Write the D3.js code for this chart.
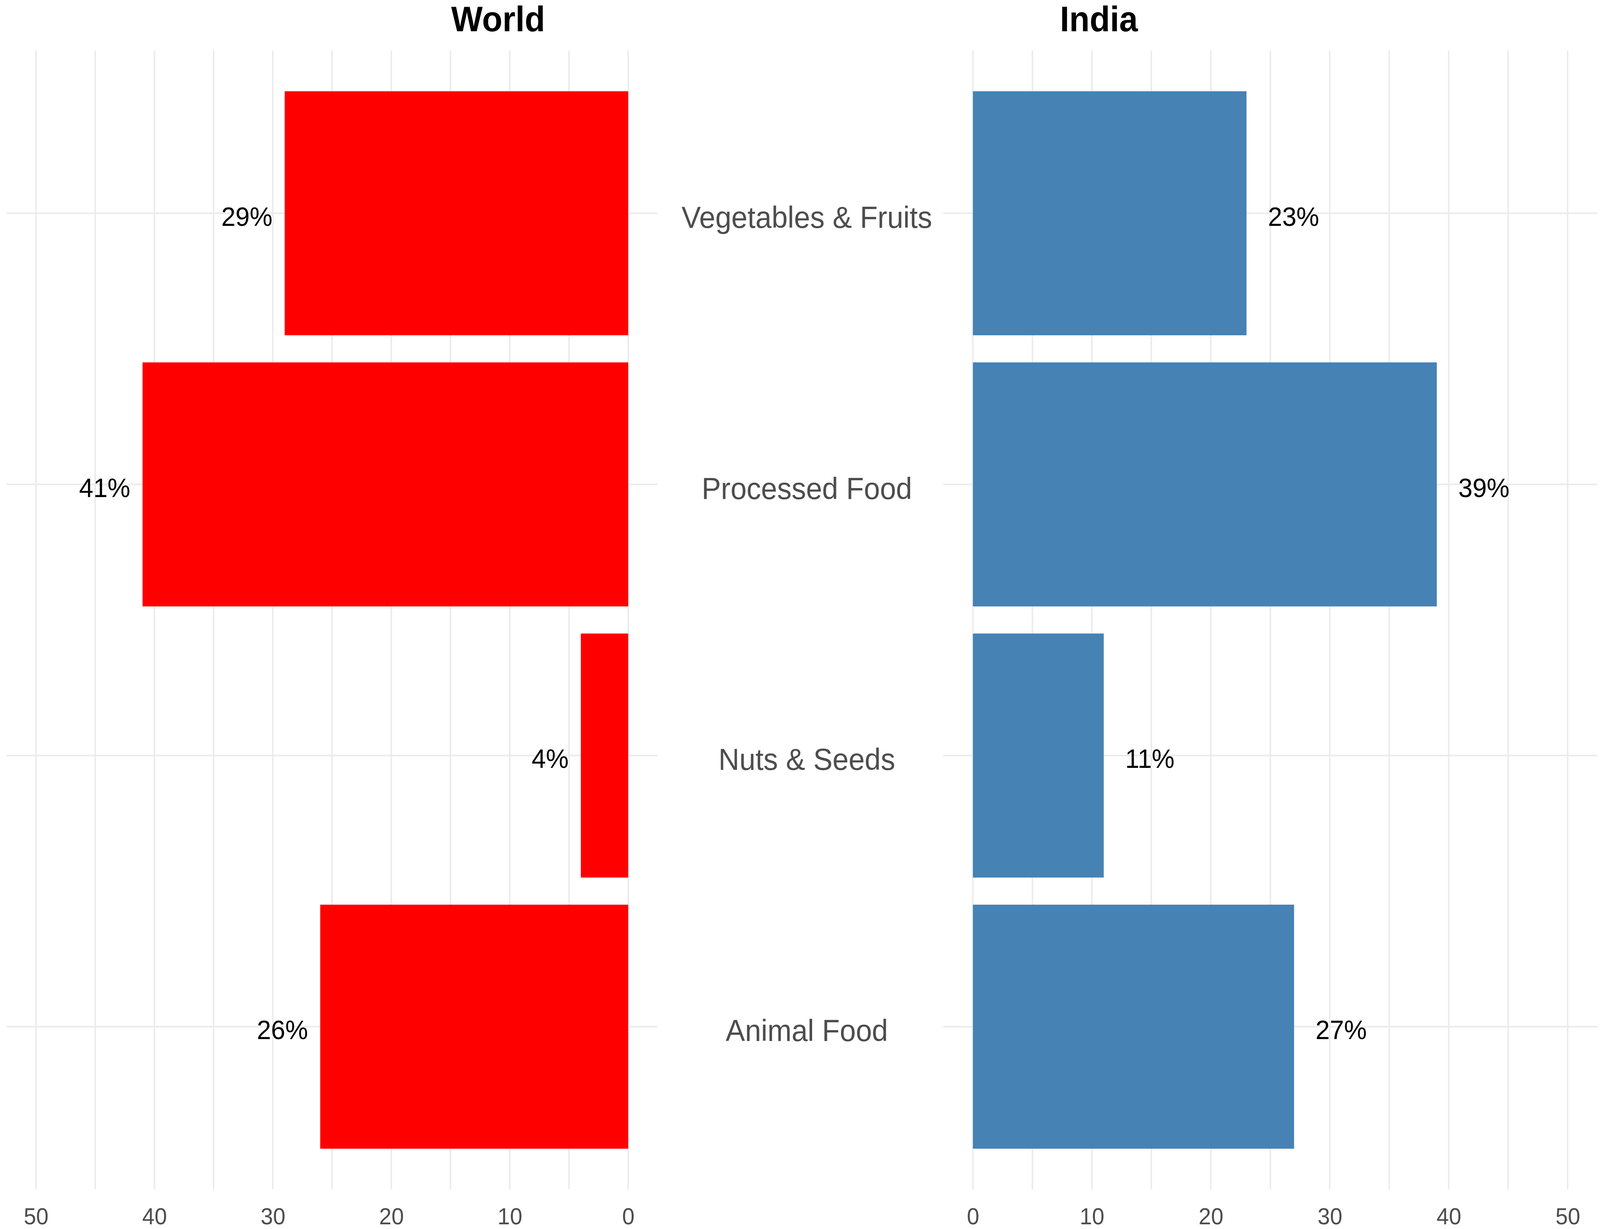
<!DOCTYPE html>
<html>
<head>
<meta charset="utf-8">
<script src="https://cdn.jsdelivr.net/npm/d3@7"></script>
<style>
  html, body { margin: 0; padding: 0; background: #ffffff; overflow: hidden; width: 100%; height: 100%; }
  svg { display: block; width: 100vw; height: 100vh; }
  text { font-family: "Liberation Sans", Arial, sans-serif; }
</style>
</head>
<body>
<script>
// ---- data ----
const categories = ["Vegetables & Fruits", "Processed Food", "Nuts & Seeds", "Animal Food"];
const worldValues = [29, 41, 4, 26];
const indiaValues = [23, 39, 11, 27];
const tickValues = [0, 10, 20, 30, 40, 50];
const gridValues = [0, 5, 10, 15, 20, 25, 30, 35, 40, 45, 50];
const panelTitles = ["World", "India"];

// ---- layout ----
const W = 4317, H = 3145;
const plotTop = 129.4, plotBottom = 3043.6;

const svg = d3.select("body").append("svg")
  .attr("viewBox", `0 0 ${W} ${H}`)
  .attr("preserveAspectRatio", "none");

svg.append("rect").attr("width", W).attr("height", H).attr("fill", "#ffffff");

const y = d3.scaleBand()
  .domain(categories)
  .range([plotTop, plotBottom])
  .paddingInner(0.1)
  .paddingOuter(0.15);

const xL = d3.scaleLinear().domain([-2.5, 52.5]).range([1774.9, 17]);
const xR = d3.scaleLinear().domain([-2.5, 52.5]).range([2544.75, 4310]);

const gridColor = "#ebebeb";
const gridW = 4;

function panel(x, values, color, side) {
  const g = svg.append("g");
  const [r0, r1] = x.range();
  const xmin = Math.min(r0, r1), xmax = Math.max(r0, r1);

  // vertical grid
  g.selectAll("line.v").data(gridValues).join("line")
    .attr("class", "v")
    .attr("x1", d => x(d)).attr("x2", d => x(d))
    .attr("y1", plotTop).attr("y2", plotBottom)
    .attr("stroke", gridColor).attr("stroke-width", gridW);

  // horizontal grid
  g.selectAll("line.h").data(categories).join("line")
    .attr("class", "h")
    .attr("x1", xmin).attr("x2", xmax)
    .attr("y1", d => y(d) + y.bandwidth() / 2)
    .attr("y2", d => y(d) + y.bandwidth() / 2)
    .attr("stroke", gridColor).attr("stroke-width", gridW);

  // bars
  g.selectAll("rect.bar").data(values).join("rect")
    .attr("class", "bar")
    .attr("x", d => Math.min(x(0), x(d)))
    .attr("width", d => Math.abs(x(d) - x(0)))
    .attr("y", (d, i) => y(categories[i]))
    .attr("height", y.bandwidth())
    .attr("fill", color);

  // value labels
  g.selectAll("text.val").data(values).join("text")
    .attr("class", "val")
    .attr("x", d => side === "left" ? x(d) - 33 : x(d) + 58)
    .attr("y", (d, i) => y(categories[i]) + y.bandwidth() / 2 + 32)
    .attr("text-anchor", side === "left" ? "end" : "start")
    .attr("font-size", 69)
    .attr("fill", "#000000")
    .text(d => d + "%");

  // axis
  const axis = d3.axisBottom(x).tickValues(tickValues).tickSize(0).tickPadding(0).tickFormat(d3.format("d"));
  const ag = g.append("g").attr("transform", `translate(0, ${plotBottom})`).call(axis);
  ag.select(".domain").remove();
  ag.selectAll("text")
    .attr("y", 89)
    .attr("dy", null)
    .attr("font-size", 60)
    .attr("font-family", "Liberation Sans, Arial, sans-serif")
    .attr("fill", "#4d4d4d");
}

panel(xL, worldValues, "#ff0000", "left");
panel(xR, indiaValues, "#4682b4", "right");

// category labels
svg.append("g").selectAll("text").data(categories).join("text")
  .attr("x", 2177)
  .attr("y", d => y(d) + y.bandwidth() / 2 + 37)
  .attr("text-anchor", "middle")
  .attr("font-size", 78)
  .attr("fill", "#4d4d4d")
  .text(d => d);

// titles
const titleX = [1344, 2965];
svg.append("g").selectAll("text").data(panelTitles).join("text")
  .attr("x", (d, i) => titleX[i])
  .attr("y", 80)
  .attr("text-anchor", "middle")
  .attr("font-size", 90)
  .attr("font-weight", "bold")
  .attr("fill", "#000000")
  .text(d => d);
</script>
</body>
</html>
